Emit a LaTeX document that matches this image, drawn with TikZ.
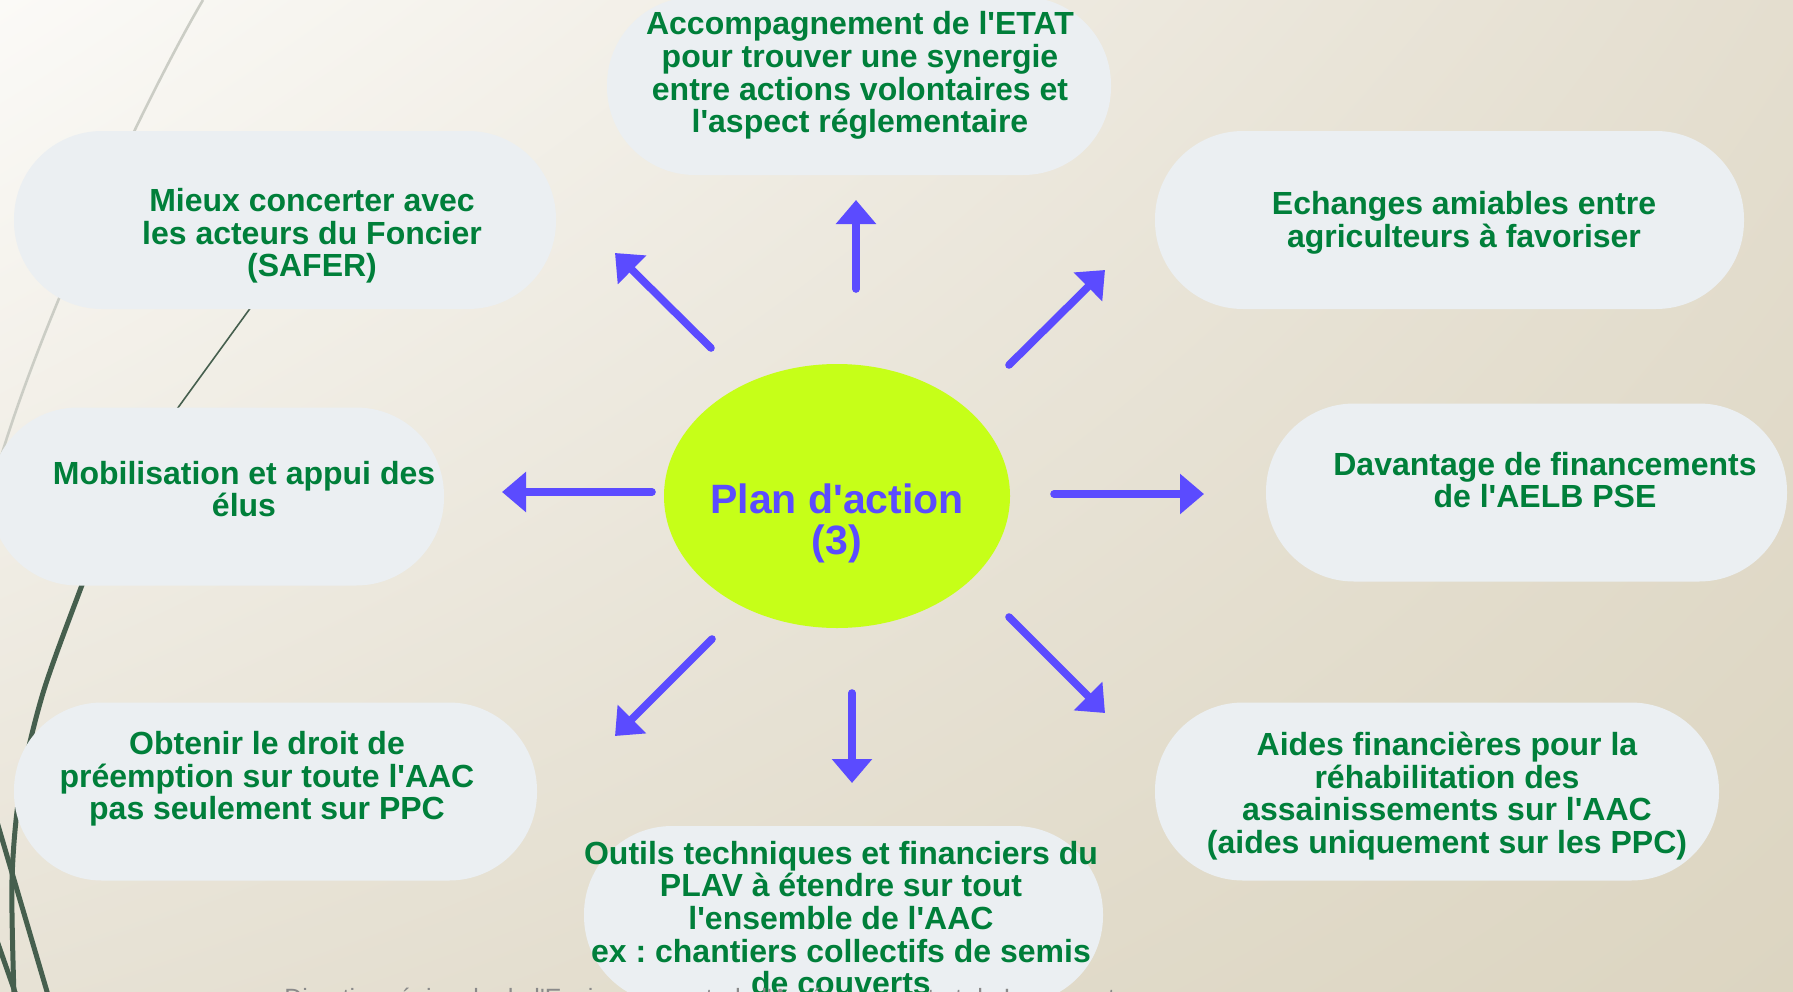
\documentclass[tikz,border=0pt]{standalone}
\usepackage{fontspec}
\setmainfont{Liberation Sans}
\usepackage{tikz}
\usetikzlibrary{arrows.meta, positioning, shapes.geometric, shadings}
\frenchspacing

\definecolor{pillgray}{HTML}{EBEFF2}
\definecolor{leafgreen}{HTML}{007F3A}
\definecolor{arrowblue}{HTML}{5B4BFF}
\definecolor{limeball}{HTML}{C6FF18}
\definecolor{stemgreen}{HTML}{465F4E}
\definecolor{stemgray}{HTML}{CBCDC5}
\definecolor{footgray}{HTML}{8A8A8A}
\definecolor{bgUL}{HTML}{FBFAF7}
\definecolor{bgUR}{HTML}{E4DECF}
\definecolor{bgLL}{HTML}{E7E2D5}
\definecolor{bgLR}{HTML}{DCD5C1}

\tikzset{
  pill/.style={fill=pillgray, rounded corners=44pt, minimum height=89pt, inner sep=0pt},
  pilltext/.style={text=leafgreen, font=\fontsize{16}{16.3}\selectfont\bfseries, align=center, inner sep=0pt},
  spoke/.style={draw=arrowblue, line width=3.8pt, line cap=round, -{Triangle[length=12pt, width=19.5pt]}},
}

\begin{document}
\begin{tikzpicture}[x=0.5pt, y=-0.5pt]

\useasboundingbox (0,0) rectangle (1793,991);

% background
\shade [upper left=bgUL, upper right=bgUR, lower left=bgLL, lower right=bgLR] (0,0) rectangle (1793,991);
\draw [stemgray, line width=1.3pt] (203,0) .. controls (150,90) and (45,310) .. (0,460);
\draw [stemgreen, line width=0.8pt] (262,292) -- (140,460);
\draw [stemgreen, line width=2.5pt] plot [smooth] coordinates {(115,500) (82,585) (43,693) (20,790) (12,880) (14,995)};
\draw [stemgreen, line width=2.5pt] (-5,815) -- (48,995);
\draw [stemgreen, line width=2.5pt] (-5,935) -- (16,995);

% nodes
\node [pill, minimum width=252pt] (ptop) at (859,86) {};
\node [pill, minimum width=271pt] (pmieux) at (285,220) {};
\node [pill, minimum width=294.5pt] (pechange) at (1449.5,220) {};
\node [pill, minimum width=227pt] (pmobil) at (217,496.5) {};
\node [pill, minimum width=260.5pt] (pdavant) at (1526.5,492.5) {};
\node [pill, minimum width=261.5pt] (pobten) at (275.5,791.5) {};
\node [pill, minimum width=259.5pt] (poutil) at (843.5,915) {};
\node [pill, minimum width=282pt] (paides) at (1437,791.5) {};

\node [ellipse, fill=limeball, minimum width=173pt, minimum height=132pt, inner sep=0pt] (plan) at (837,496) {};

\node [pilltext] (ttop) at (860,75.5) {Accompagnement de l\textquotesingle ETAT\\pour trouver une synergie\\entre actions volontaires et\\l\textquotesingle aspect réglementaire};
\node [pilltext] (tmieux) at (312,236) {Mieux concerter avec\\les acteurs du Foncier\\(SAFER)};
\node [pilltext] (techange) at (1464,223) {Echanges amiables entre\\agriculteurs à favoriser};
\node [pilltext] (tmobil) at (244,489) {Mobilisation et appui des\\élus};
\node [pilltext] (tdavant) at (1545,480) {Davantage de financements\\de l\textquotesingle AELB PSE};
\node [pilltext] (tobten) at (267,779) {Obtenir le droit de\\préemption sur toute l\textquotesingle AAC\\pas seulement sur PPC};
\node [pilltext] (toutil) at (841,918) {Outils techniques et financiers du\\PLAV à étendre sur tout\\l\textquotesingle ensemble de l\textquotesingle AAC\\ex : chantiers collectifs de semis\\de couverts};
\node [pilltext] (taides) at (1447,796) {Aides financières pour la\\réhabilitation des\\assainissements sur l\textquotesingle AAC\\(aides uniquement sur les PPC)};
\node [text=arrowblue, font=\fontsize{20.5}{20.5}\selectfont\bfseries, align=center, inner sep=0pt] (tplan) at (837,523) {Plan d\textquotesingle action\\(3)};

\node [anchor=base west, text=footgray, font=\fontsize{12.5}{14}\selectfont, inner sep=0pt] (foot) at (284,1006) {Direction régionale de l\textquotesingle Environnement, de l\textquotesingle Aménagement et du Logement};

% arrow ends
\coordinate (upS) at (856,289);
\coordinate (upE) at (856,200);
\coordinate (ulS) at (711,348);
\coordinate (ulE) at (615,253);
\coordinate (urS) at (1009,365);
\coordinate (urE) at (1105,270);
\coordinate (lS) at (652,492);
\coordinate (lE) at (502,492);
\coordinate (rS) at (1054,494);
\coordinate (rE) at (1204,494);
\coordinate (dlS) at (712,639);
\coordinate (dlE) at (615,736);
\coordinate (dS) at (852,693);
\coordinate (dE) at (852,783);
\coordinate (drS) at (1009,617);
\coordinate (drE) at (1105,713);

% arrows
\draw [spoke] (upS) -- (upE);
\draw [spoke] (ulS) -- (ulE);
\draw [spoke] (urS) -- (urE);
\draw [spoke] (lS) -- (lE);
\draw [spoke] (rS) -- (rE);
\draw [spoke] (dlS) -- (dlE);
\draw [spoke] (dS) -- (dE);
\draw [spoke] (drS) -- (drE);

\end{tikzpicture}
\end{document}
